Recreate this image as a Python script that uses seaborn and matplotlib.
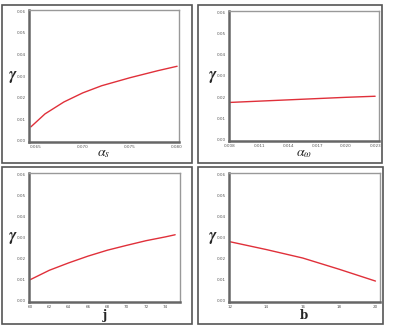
import matplotlib
matplotlib.use("Agg")
import matplotlib.pyplot as plt
import seaborn as sns
import pandas as pd
from matplotlib.patches import Rectangle

sns.set_theme(style="white")
plt.rcParams['font.family'] = ['DejaVu Sans']
plt.rcParams['mathtext.fontset'] = 'stix'

# Panel data
alpha_s = [0.0645, 0.066, 0.068, 0.070, 0.072, 0.075, 0.078, 0.080]
gamma_s = [0.0065, 0.0125, 0.0180, 0.0222, 0.0255, 0.0292, 0.0325, 0.0345]

alpha_w = [0.008, 0.011, 0.014, 0.017, 0.020, 0.023]
gamma_w = [0.0176, 0.0182, 0.0188, 0.0194, 0.0200, 0.0205]

j_vals = [60, 62, 64, 66, 68, 70, 72, 74, 75]
gamma_j = [0.0100, 0.0145, 0.0180, 0.0212, 0.0240, 0.0263, 0.0285, 0.0303, 0.0313]

b_vals = [12, 14, 16, 18, 20]
gamma_b = [0.0280, 0.0243, 0.0203, 0.0150, 0.0094]

y_ticks = [0.00, 0.01, 0.02, 0.03, 0.04, 0.05, 0.06]
xt_s = [0.065, 0.070, 0.075, 0.080]
xt_w = [0.008, 0.011, 0.014, 0.017, 0.020, 0.023]
xt_j = [60, 62, 64, 66, 68, 70, 72, 74]
xt_b = [12, 14, 16, 18, 20]

W, H = 393, 325
fig = plt.figure(figsize=(W / 100, H / 100), dpi=100)

def fr(x0, y0, x1, y1):
    return [x0 / W, 1 - y1 / H, (x1 - x0) / W, (y1 - y0) / H]

panels = [
    dict(box=(2, 5, 192, 163), ax=(29, 10, 179, 142), x=alpha_s, y=gamma_s,
         xt=xt_s, xlim=(0.0643, 0.0802), fmt="{:.3f}",
         xlabel=r"$\boldsymbol{\alpha_s}$", lab=(104, 156), math=True),
    dict(box=(198, 5, 382, 163), ax=(229, 11, 379, 141), x=alpha_w, y=gamma_w,
         xt=xt_w, xlim=(0.0079, 0.0234), fmt="{:.3f}",
         xlabel=r"$\boldsymbol{\alpha_\omega}$", lab=(304, 156), math=True),
    dict(box=(2, 167, 192, 324), ax=(29, 173, 180, 302), x=j_vals, y=gamma_j,
         xt=xt_j, xlim=(59.9, 75.5), fmt="{:d}",
         xlabel="j", lab=(105, 319), math=False),
    dict(box=(198, 167, 383, 324), ax=(229, 173, 380, 302), x=b_vals, y=gamma_b,
         xt=xt_b, xlim=(11.95, 20.25), fmt="{:d}",
         xlabel="b", lab=(304, 319), math=False),
]

for p in panels:
    bx0, by0, bx1, by1 = p["box"]
    fig.patches.append(Rectangle((bx0 / W, 1 - by1 / H), (bx1 - bx0) / W, (by1 - by0) / H,
                                 transform=fig.transFigure, fill=False,
                                 edgecolor="#555555", linewidth=1.2))
    ax = fig.add_axes(fr(*p["ax"]))
    df = pd.DataFrame({"x": p["x"], "y": p["y"]})
    sns.lineplot(data=df, x="x", y="y", ax=ax, color="#e0303a", linewidth=1.0)
    ax.set_xlim(*p["xlim"])
    ax.set_ylim(-0.0005, 0.0605)
    ax.set_yticks(y_ticks)
    ax.set_yticklabels([f"{v:.2f}" for v in y_ticks])
    ax.set_xticks(p["xt"])
    ax.set_xticklabels([p["fmt"].format(v) for v in p["xt"]])
    ax.tick_params(axis="both", labelsize=3, colors="#555555", length=1.5, width=0.5, pad=1)
    for side in ["top", "right"]:
        ax.spines[side].set_color("#999999")
        ax.spines[side].set_linewidth(1.0)
    for side in ["left", "bottom"]:
        ax.spines[side].set_color("#666666")
        ax.spines[side].set_linewidth(1.8)
    ax.set_xlabel("")
    lx, ly = p["lab"]
    if p["math"]:
        fig.text(lx / W, 1 - ly / H, p["xlabel"], fontsize=10, ha="center", va="baseline")
    else:
        fig.text(lx / W, 1 - ly / H, p["xlabel"], fontsize=8.5, ha="center", va="baseline",
                 family="DejaVu Serif", fontweight="bold")
    ax.set_ylabel(r"$\boldsymbol{\gamma}$", fontsize=12, rotation=0, va="center")
    ax.yaxis.set_label_coords(-0.11, 0.5)

fig.savefig("out.png", dpi=100)
